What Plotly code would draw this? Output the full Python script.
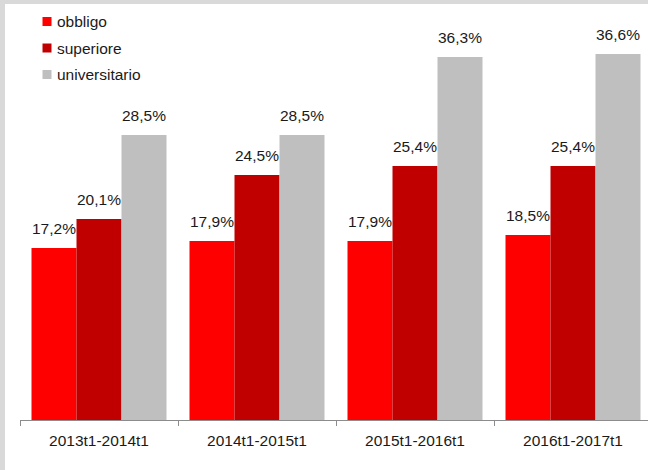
import plotly.graph_objects as go

categories = ["2013t1-2014t1", "2014t1-2015t1", "2015t1-2016t1", "2016t1-2017t1"]
obbligo = [17.2, 17.9, 17.9, 18.5]
superiore = [20.1, 24.5, 25.4, 25.4]
universitario = [28.5, 28.5, 36.3, 36.6]
series_names = ["obbligo", "superiore", "universitario"]
series_values = [obbligo, superiore, universitario]
colors = ["#ff0000", "#c00000", "#bfbfbf"]

W, H = 648, 470
ML, MR, MT, MB = 20, 0, 4, 50
PW, PH = W - ML - MR, H - MT - MB
CAT_PX = 158.0
BARGAP = 23.0 / CAT_PX
YMAX = PH / 10.0

FONT = "Liberation Sans, Arial, sans-serif"
FS = 15.5
TXT = "#1a1a1a"


def px_x(px):
    return (px - ML) / PW


def px_y(py):
    return (H - MB - py) / PH


fig = go.Figure()
for name, vals, col in zip(series_names, series_values, colors):
    fig.add_trace(go.Bar(name=name, x=categories, y=vals, marker=dict(color=col, line=dict(width=0)),
                         showlegend=False, hoverinfo="skip"))

# data labels
bw = (1 - BARGAP) / len(series_names)
annotations = []
for si, vals in enumerate(series_values):
    off = (si - (len(series_names) - 1) / 2) * bw
    for ci, v in enumerate(vals):
        annotations.append(dict(x=ci + off, y=v, xref="x", yref="y", text=f"{v:.1f}%".replace(".", ","),
                                showarrow=False, yanchor="bottom", xanchor="center", yshift=9,
                                font=dict(family=FONT, size=FS, color=TXT)))

# legend (manual)
shapes = []
leg_centers = [21.5, 48.0, 74.5]
for name, col, cy in zip(series_names, colors, leg_centers):
    shapes.append(dict(type="rect", xref="paper", yref="paper", x0=px_x(42.5), x1=px_x(51.5),
                       y0=px_y(cy - 4.5), y1=px_y(cy + 4.5), fillcolor=col, line=dict(width=0), layer="above"))
    annotations.append(dict(x=px_x(55), y=px_y(cy + 0.5), xref="paper", yref="paper", text=name, showarrow=False,
                            xanchor="left", yanchor="middle", font=dict(family=FONT, size=FS, color=TXT)))

# gray frame strips
shapes.append(dict(type="rect", xref="paper", yref="paper", x0=px_x(0), x1=px_x(5), y0=px_y(H), y1=px_y(0),
                   fillcolor="#d9d9d9", line=dict(width=0), layer="below"))
shapes.append(dict(type="rect", xref="paper", yref="paper", x0=px_x(0), x1=px_x(W), y0=px_y(4), y1=px_y(0),
                   fillcolor="#d9d9d9", line=dict(width=0), layer="below"))

fig.update_layout(
    width=W, height=H,
    margin=dict(l=ML, r=MR, t=MT, b=MB, pad=0),
    paper_bgcolor="white", plot_bgcolor="rgba(0,0,0,0)",
    barmode="group", bargap=BARGAP, bargroupgap=0,
    separators=",.",
    annotations=annotations, shapes=shapes,
    showlegend=False,
    font=dict(family=FONT, size=FS, color=TXT),
)
fig.update_xaxes(type="category", range=[-0.5, -0.5 + PW / CAT_PX], showline=True, linecolor="#8c8c8c",
                 linewidth=1, ticks="outside", tickson="boundaries", ticklen=5, tickcolor="#8c8c8c",
                 ticklabelstandoff=6,
                 showgrid=False, tickfont=dict(family=FONT, size=FS, color=TXT), fixedrange=True)
fig.update_yaxes(range=[0, YMAX], showline=False, showgrid=False, zeroline=False, showticklabels=False,
                 ticks="", fixedrange=True)

fig.write_html("out.html", config={"displayModeBar": False},
               post_script="document.body.style.margin='0';document.body.style.overflow='hidden';")
